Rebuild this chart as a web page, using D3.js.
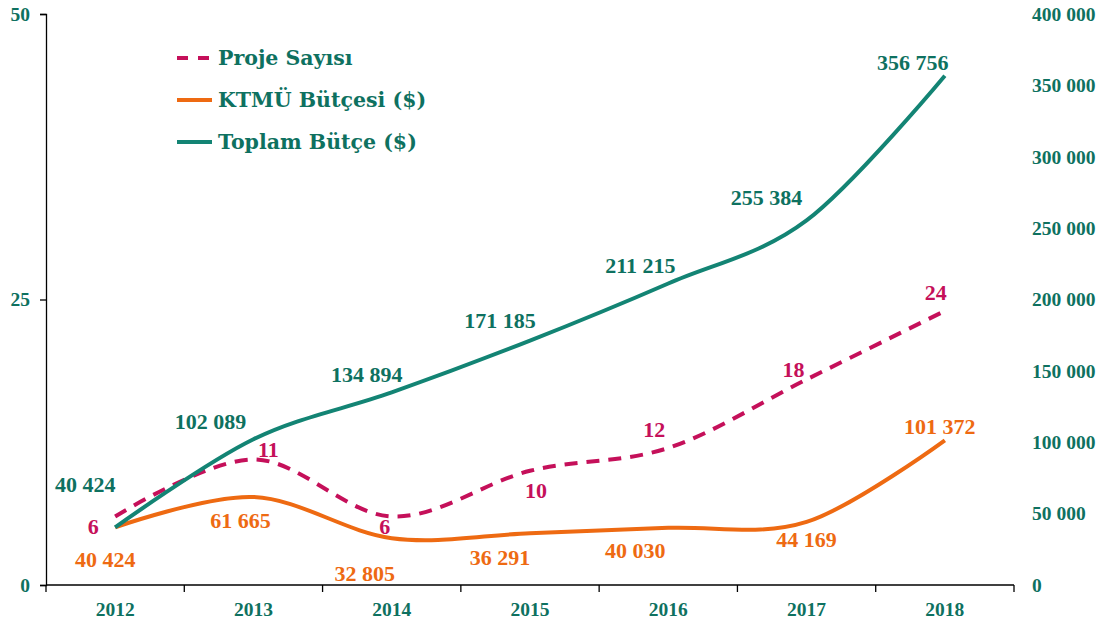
<!DOCTYPE html>
<html>
<head>
<meta charset="utf-8">
<script src="https://cdn.jsdelivr.net/npm/d3@7"></script>
<style>
  body { margin: 0; background: #ffffff; }
  svg { display: block; }
  .num { font-family: "Liberation Serif", "Times New Roman", serif; font-weight: bold; }
</style>
</head>
<body>
<div id="chart"></div>
<script>
// -------------------------------------------------------------------------- //
//                               DATA                                         //
// -------------------------------------------------------------------------- //

var years       = ["2012", "2013", "2014", "2015", "2016", "2017", "2018"];
var projeSayisi = [6, 11, 6, 10, 12, 18, 24];
var ktmuButce   = [40424, 61665, 32805, 36291, 40030, 44169, 101372];
var toplamButce = [40424, 102089, 134894, 171185, 211215, 255384, 356756];

var leftTicks  = [0, 25, 50];
var rightTicks = [0, 50000, 100000, 150000, 200000, 250000, 300000, 350000, 400000];

var seriesNames = ["Proje Sayısı", "KTMÜ Bütçesi ($)", "Toplam Bütçe ($)"];

// label nudges (pixels, relative to the point)
var projeLabelOff  = [[-22, 10], [15, -10], [-7, 10], [6, 19], [-14, -19], [-13, -10], [-9, -19]];
var ktmuLabelOff   = [[-10, 32], [-13, 23], [-27, 35], [-30, 24], [-33, 22], [0, 17], [-5, -14]];
var toplamLabelOff = [[-30, -43], [-43, -18], [-25, -18], [-30, -20], [-28, -18], [-40, -23], [-32, -13]];

// -------------------------------------------------------------------------- //
//                               CHART                                        //
// -------------------------------------------------------------------------- //

var W = 1104, H = 623;
var mLeft = 46, mRight = 1014, mTop = 14, mBottom = 585;

var teal      = "#138474";
var tealText  = "#0e7160";
var crimson   = "#c5105a";
var orange    = "#ee6a12";

var svg = d3.select("#chart").append("svg")
    .attr("width", W)
    .attr("height", H);

var x = d3.scaleBand().domain(years).range([mLeft, mRight]).paddingInner(0).paddingOuter(0);
var yL = d3.scaleLinear().domain([0, 50]).range([mBottom, mTop]);
var yR = d3.scaleLinear().domain([0, 400000]).range([mBottom, mTop]);

function cx(i) { return x(years[i]) + x.bandwidth() / 2; }

function fmtSpace(v) { return d3.format(",")(v).replace(/,/g, " "); }

// left axis
var gL = svg.append("g")
    .attr("transform", "translate(" + mLeft + ",0)")
    .call(d3.axisLeft(yL).tickValues(leftTicks).tickSize(6).tickPadding(10));
gL.select(".domain").attr("stroke", "#000").attr("stroke-width", 1.3);
gL.selectAll(".tick line").attr("stroke", "#000").attr("stroke-width", 1.3);
gL.selectAll(".tick text")
    .attr("class", "num")
    .attr("fill", tealText)
    .style("font-size", "19.5px");

// right axis (labels only)
var gR = svg.append("g")
    .attr("transform", "translate(" + (mRight + 18) + ",0)")
    .call(d3.axisRight(yR).tickValues(rightTicks).tickSize(0).tickPadding(0).tickFormat(fmtSpace));
gR.select(".domain").remove();
gR.selectAll(".tick text")
    .attr("class", "num")
    .attr("fill", tealText)
    .style("font-size", "19.5px");

// bottom axis
var gB = svg.append("g")
    .attr("transform", "translate(0," + mBottom + ")")
    .call(d3.axisBottom(x).tickSize(0).tickPadding(17));
gB.select(".domain").attr("stroke", "#000").attr("stroke-width", 1.3)
    .attr("d", "M" + mLeft + ",0H" + mRight);
gB.selectAll(".tick text")
    .attr("class", "num")
    .attr("fill", tealText)
    .style("font-size", "19.5px");

// tick marks at band edges
var edges = years.map(function (d) { return x(d); }).concat([mRight]);
svg.append("g").selectAll("line")
    .data(edges)
    .enter().append("line")
    .attr("x1", function (d) { return d; })
    .attr("x2", function (d) { return d; })
    .attr("y1", mBottom)
    .attr("y2", mBottom + 7)
    .attr("stroke", "#000")
    .attr("stroke-width", 1.3);

// lines
var curve = d3.curveCardinal.tension(0);

function drawSeries(vals, yScale, color, dash) {
  var line = d3.line()
      .x(function (d, i) { return cx(i); })
      .y(function (d) { return yScale(d); })
      .curve(curve);
  svg.append("path")
      .datum(vals)
      .attr("fill", "none")
      .attr("stroke", color)
      .attr("stroke-width", 4)
      .attr("stroke-dasharray", dash || null)
      .attr("d", line);
}

drawSeries(projeSayisi, yL, crimson, "13,9");
drawSeries(ktmuButce, yR, orange);
drawSeries(toplamButce, yR, teal);

// data labels
function drawLabels(vals, yScale, color, offs, fmt) {
  svg.append("g").selectAll("text")
      .data(vals)
      .enter().append("text")
      .attr("class", "num")
      .attr("x", function (d, i) { return cx(i) + offs[i][0]; })
      .attr("y", function (d, i) { return yScale(d) + offs[i][1]; })
      .attr("dy", "0.35em")
      .attr("text-anchor", "middle")
      .attr("fill", color)
      .style("font-size", "22px")
      .text(fmt);
}

drawLabels(projeSayisi, yL, crimson, projeLabelOff, function (d) { return d; });
drawLabels(ktmuButce, yR, orange, ktmuLabelOff, fmtSpace);
drawLabels(toplamButce, yR, tealText, toplamLabelOff, fmtSpace);

// legend
var legendRows = [
  { name: seriesNames[0], color: crimson, dash: "11,10" },
  { name: seriesNames[1], color: orange, dash: null },
  { name: seriesNames[2], color: teal, dash: null }
];

var lg = svg.append("g").attr("transform", "translate(177,58)");
legendRows.forEach(function (r, i) {
  var row = lg.append("g").attr("transform", "translate(0," + (i * 42) + ")");
  row.append("line")
      .attr("x1", 0).attr("x2", 35)
      .attr("y1", 0).attr("y2", 0)
      .attr("stroke", r.color)
      .attr("stroke-width", 4)
      .attr("stroke-dasharray", r.dash);
  row.append("text")
      .attr("x", 41)
      .attr("dy", "0.35em")
      .attr("fill", tealText)
      .style("font-family", "'DejaVu Serif', serif")
      .style("font-weight", "bold")
      .style("font-size", "20.5px")
      .text(r.name);
});
</script>
</body>
</html>
